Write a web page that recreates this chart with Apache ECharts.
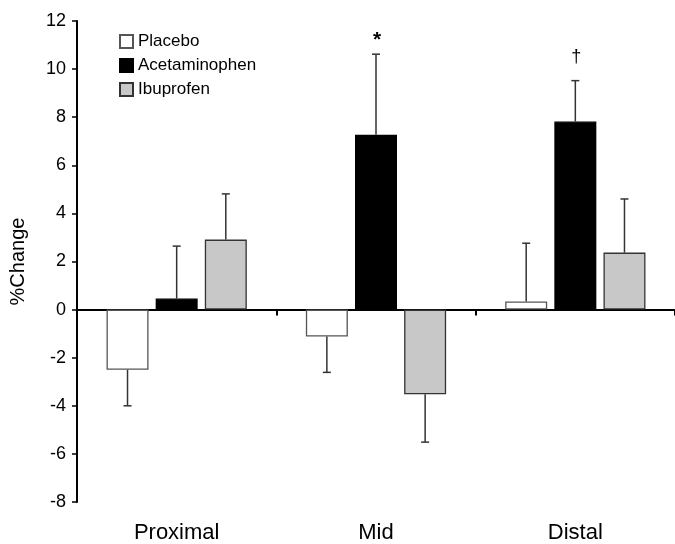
<!DOCTYPE html>
<html>
<head>
<meta charset="utf-8">
<script src="https://cdn.jsdelivr.net/npm/echarts@6/dist/echarts.min.js"></script>
<style>
  html, body { margin: 0; padding: 0; background: #fff; }
  #chart { width: 675px; height: 544px; }
</style>
</head>
<body>
<div id="chart"></div>
<script>
var sites = ['Proximal', 'Mid', 'Distal'];
var groups = ['Placebo', 'Acetaminophen', 'Ibuprofen'];
var placebo = [-2.5, -1.12, 0.34];
var acetaminophen = [0.46, 7.27, 7.82];
var ibuprofen = [2.91, -3.52, 2.37];
var placeboErr = [1.5, 1.49, 2.42];
var acetaminophenErr = [2.18, 3.35, 1.7];
var ibuprofenErr = [1.9, 1.99, 2.23];
var sigMarks = ['', '*', '\u2020'];
var sigY = [null, 11.2, 10.5];
var yTicks = [-8, -6, -4, -2, 0, 2, 4, 6, 8, 10, 12];

var font = 'Liberation Sans, Arial, sans-serif';
var barW = 42;
var barGapPct = 0.17;
var spacing = barW * (1 + barGapPct);

var means = [placebo, acetaminophen, ibuprofen];
var errs = [placeboErr, acetaminophenErr, ibuprofenErr];
var errData = [];
for (var k = 0; k < 3; k++) {
    for (var i = 0; i < sites.length; i++) {
        errData.push([i, means[k][i], errs[k][i], k]);
    }
}
var sigData = [];
for (var i = 0; i < sites.length; i++) {
    if (sigMarks[i]) sigData.push([i, sigY[i], sigMarks[i]]);
}

var fills = ['#ffffff', '#000000', '#c8c8c8'];
var borders = ['#555555', '#000000', '#333333'];

var series = groups.map(function (name, k) {
    return {
        name: name,
        type: 'bar',
        xAxisIndex: 0,
        data: means[k],
        barWidth: barW,
        barGap: (barGapPct * 100) + '%',
        itemStyle: {
            color: fills[k],
            borderColor: borders[k],
            borderWidth: 1.3
        },
        z: 2
    };
});

series.push({
    type: 'custom',
    xAxisIndex: 0,
    data: errData,
    encode: { x: 0, y: 1 },
    z: 3,
    silent: true,
    renderItem: function (params, api) {
        var c = api.value(0), v = api.value(1), e = api.value(2), k = api.value(3);
        var sign = v < 0 ? -1 : 1;
        var base = api.coord([c, v]);
        var tip = api.coord([c, v + sign * e]);
        var x = base[0] + (k - 1) * spacing;
        var style = { stroke: '#333333', lineWidth: 1.5 };
        return {
            type: 'group',
            children: [
                { type: 'line', shape: { x1: x, y1: base[1], x2: x, y2: tip[1] }, style: style },
                { type: 'line', shape: { x1: x - 4, y1: tip[1], x2: x + 4, y2: tip[1] }, style: style }
            ]
        };
    }
});

series.push({
    type: 'custom',
    xAxisIndex: 0,
    data: sigData,
    encode: { x: 0, y: 1 },
    z: 4,
    silent: true,
    renderItem: function (params, api) {
        var p = api.coord([api.value(0), api.value(1)]);
        var mark = sigData[params.dataIndex][2];
        return {
            type: 'text',
            style: {
                x: p[0] + 1,
                y: p[1],
                text: mark,
                fill: '#000',
                font: (mark === '*' ? 'bold 21px ' : '18px ') + font,
                align: 'center',
                verticalAlign: 'middle'
            }
        };
    }
});

var chart = echarts.init(document.getElementById('chart'));
chart.setOption({
    animation: false,
    backgroundColor: '#fff',
    textStyle: { fontFamily: font, color: '#000' },
    grid: { left: 72, top: 21, width: 608, height: 483 },
    legend: {
        data: groups,
        orient: 'vertical',
        left: 119,
        top: 33,
        padding: 0,
        itemWidth: 13,
        itemHeight: 13,
        itemGap: 7,
        icon: 'rect',
        textStyle: { fontSize: 17, color: '#000', fontFamily: font }
    },
    xAxis: [
        {
            type: 'category',
            data: sites,
            axisLine: { onZero: true, lineStyle: { color: '#000', width: 2 } },
            axisTick: { show: true, length: 6, lineStyle: { color: '#000', width: 2 } },
            axisLabel: { show: false }
        },
        {
            type: 'category',
            data: sites,
            position: 'bottom',
            axisLine: { show: false, onZero: false },
            axisTick: { show: false },
            axisLabel: { fontSize: 22, color: '#000', margin: 20, fontFamily: font }
        }
    ],
    yAxis: {
        type: 'value',
        min: yTicks[0],
        max: yTicks[yTicks.length - 1],
        interval: 2,
        name: '%Change',
        nameLocation: 'middle',
        nameGap: 49,
        nameTextStyle: { fontSize: 20, color: '#000', fontFamily: font },
        axisLine: { show: true, lineStyle: { color: '#000', width: 2 } },
        axisTick: { show: true, length: 5, lineStyle: { color: '#000', width: 1.5 } },
        axisLabel: { fontSize: 18, color: '#000', margin: 11, fontFamily: font },
        splitLine: { show: false }
    },
    series: series
});
</script>
</body>
</html>
